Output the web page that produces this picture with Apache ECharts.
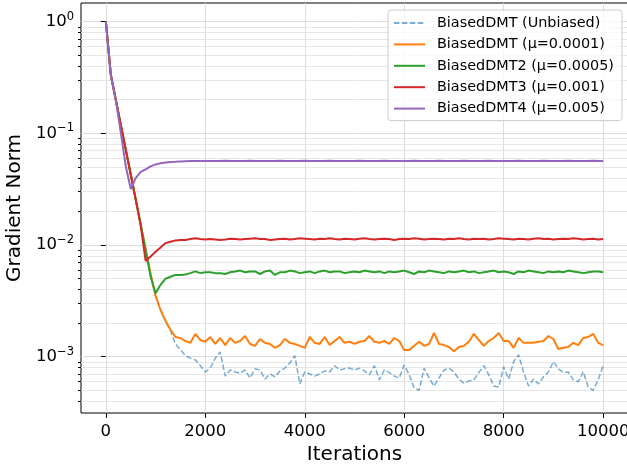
<!DOCTYPE html>
<html>
<head>
<meta charset="utf-8">
<script src="https://cdn.jsdelivr.net/npm/echarts@6/dist/echarts.min.js"></script>
<style>
  html, body { margin: 0; padding: 0; background: #fff; }
  #chart { width: 627px; height: 466px; }
</style>
</head>
<body>
<div id="chart"></div>
<script>
// iterations are logged every 100 steps, 0 .. 10000
var ITER_STEP = 100;
var iterations = [];
for (var i = 0; i <= 100; i++) iterations.push(i * ITER_STEP);

var seriesNames = ['BiasedDMT (Unbiased)', 'BiasedDMT (μ=0.0001)', 'BiasedDMT2 (μ=0.0005)', 'BiasedDMT3 (μ=0.001)', 'BiasedDMT4 (μ=0.005)'];
var seriesColors = ['#1f77b4', '#ff7f0e', '#2ca02c', '#d62728', '#9467bd'];

var unbiased = [
  1.0, 0.333, 0.200, 0.119, 0.0715, 0.0428, 0.0256, 0.0153, 0.0092, 0.0055, 0.0035, 0.00262, 0.00209, 0.00170,
  0.00130, 0.00115, 0.00102, 0.00097, 0.000935, 0.00083, 0.00073, 0.00079, 0.00097, 0.00110,
  0.00067, 0.00076, 0.00073, 0.00071, 0.00076, 0.000645, 0.00078, 0.00076, 0.00063, 0.00070,
  0.00066, 0.000745, 0.00079, 0.00088, 0.00102, 0.00057, 0.00073, 0.00070, 0.00067, 0.00070,
  0.000745, 0.00073, 0.00083, 0.00076, 0.00078, 0.00079, 0.00076, 0.00079, 0.000745, 0.00069,
  0.00083, 0.00062, 0.00076, 0.00072, 0.00067, 0.000645, 0.00084, 0.00069, 0.000525, 0.00050,
  0.00079, 0.000645, 0.000545, 0.000645, 0.00076, 0.00079, 0.00073, 0.00063, 0.00058, 0.000605,
  0.00062, 0.00072, 0.00083, 0.00069, 0.000545, 0.000535, 0.00081, 0.00063, 0.00090, 0.00104,
  0.00073, 0.000545, 0.00063, 0.00057, 0.00066, 0.00073, 0.00090, 0.00078, 0.00072, 0.00073,
  0.00062, 0.000595, 0.00073, 0.000535, 0.00050, 0.00062, 0.00083
];

var mu0001 = [
  1.0, 0.333, 0.200, 0.119, 0.0715, 0.0428, 0.0256, 0.0153, 0.0092, 0.0055, 0.0035, 0.00262, 0.00209, 0.00174,
  0.00150, 0.00147, 0.00138, 0.00133, 0.00160, 0.00141, 0.00136, 0.00150, 0.00130, 0.00147,
  0.00127, 0.00147, 0.00133, 0.00138, 0.00153, 0.00130, 0.00125, 0.00144, 0.00133, 0.00130,
  0.00120, 0.00127, 0.00144, 0.00133, 0.00130, 0.00125, 0.00120, 0.00150, 0.00133, 0.00130,
  0.00150, 0.00127, 0.00138, 0.00150, 0.00133, 0.00136, 0.00130, 0.00136, 0.00138, 0.00153,
  0.00136, 0.00133, 0.00138, 0.00130, 0.00147, 0.00138, 0.00115, 0.00115, 0.00125, 0.00136,
  0.00125, 0.00130, 0.00163, 0.00130, 0.00127, 0.00122, 0.00112, 0.00122, 0.00125, 0.00136,
  0.00160, 0.00141, 0.00125, 0.00138, 0.00147, 0.00163, 0.00138, 0.00138, 0.00120, 0.00147,
  0.00133, 0.00133, 0.00133, 0.00136, 0.00138, 0.00153, 0.00144, 0.00117, 0.00120, 0.00122,
  0.00133, 0.00127, 0.00147, 0.00150, 0.00160, 0.00133, 0.00127
];

var mu0005 = [
  1.0, 0.333, 0.200, 0.119, 0.0715, 0.0428, 0.0256, 0.0153, 0.0090, 0.0052, 0.0037,
  0.0044, 0.0050, 0.0052, 0.0054, 0.0054, 0.00545, 0.0056, 0.0058, 0.0056, 0.0057,
  0.0057, 0.0056, 0.0056, 0.0055, 0.0057, 0.0058, 0.0059, 0.0057, 0.0058, 0.0058,
  0.0055, 0.0058, 0.0059, 0.0054, 0.0057, 0.0057, 0.0059, 0.0058, 0.0056, 0.0057,
  0.0058, 0.0056, 0.0058, 0.0059, 0.0057, 0.0058, 0.0058, 0.0056, 0.0057, 0.0058,
  0.0057, 0.0059, 0.0058, 0.0057, 0.0058, 0.0056, 0.0058, 0.0057, 0.0058, 0.0059,
  0.0057, 0.0055, 0.0058, 0.0057, 0.0059, 0.0058, 0.0057, 0.0056, 0.0058, 0.0057,
  0.0058, 0.0059, 0.0057, 0.0058, 0.0056, 0.0057, 0.0058, 0.0059, 0.0057, 0.0058,
  0.0057, 0.0055, 0.0058, 0.0057, 0.0059, 0.0058, 0.0057, 0.0056, 0.0058, 0.0057,
  0.0058, 0.0057, 0.0059, 0.0058, 0.0057, 0.0056, 0.0057, 0.0058, 0.0058, 0.0057
];

var mu001 = [
  1.0, 0.333, 0.200, 0.119, 0.0715, 0.0428, 0.0256, 0.0150, 0.0072, 0.0079, 0.0087,
  0.0095, 0.0104, 0.0107, 0.0110, 0.0111, 0.0111, 0.0113, 0.0115, 0.0113, 0.0112,
  0.0113, 0.0112, 0.0111, 0.0112, 0.0114, 0.0113, 0.0112, 0.0113, 0.0114, 0.0115,
  0.0113, 0.0113, 0.0111, 0.0112, 0.0113, 0.0114, 0.0112, 0.0113, 0.0115, 0.0114,
  0.0113, 0.0112, 0.0114, 0.0113, 0.0115, 0.0113, 0.0112, 0.0114, 0.0113, 0.0112,
  0.0114, 0.0115, 0.0113, 0.0112, 0.0113, 0.0114, 0.0113, 0.0111, 0.0113, 0.0114,
  0.0113, 0.0115, 0.0114, 0.0112, 0.0113, 0.0114, 0.0113, 0.0112, 0.0114, 0.0113,
  0.0115, 0.0113, 0.0112, 0.0114, 0.0113, 0.0114, 0.0112, 0.0113, 0.0115, 0.0114,
  0.0113, 0.0112, 0.0114, 0.0113, 0.0112, 0.0114, 0.0115, 0.0113, 0.0114, 0.0112,
  0.0113, 0.0114, 0.0113, 0.0115, 0.0114, 0.0112, 0.0113, 0.0114, 0.0112, 0.0113
];

var mu005 = [
  1.0, 0.333, 0.197, 0.102, 0.051, 0.0317, 0.0398, 0.0451, 0.0475, 0.0506, 0.0527,
  0.0540, 0.0549, 0.0555, 0.0557, 0.0561, 0.0563, 0.0564, 0.0565, 0.0565, 0.0566,
  0.0566, 0.0565, 0.0566, 0.0567, 0.0566, 0.0566, 0.0565, 0.0566, 0.0567, 0.0566,
  0.0566, 0.0565, 0.0566, 0.0566, 0.0567, 0.0566, 0.0565, 0.0566, 0.0566, 0.0567,
  0.0566, 0.0566, 0.0565, 0.0566, 0.0567, 0.0566, 0.0566, 0.0565, 0.0566, 0.0566,
  0.0567, 0.0566, 0.0565, 0.0566, 0.0566, 0.0567, 0.0566, 0.0566, 0.0565, 0.0566,
  0.0566, 0.0567, 0.0566, 0.0565, 0.0566, 0.0566, 0.0567, 0.0566, 0.0566, 0.0565,
  0.0566, 0.0567, 0.0566, 0.0566, 0.0565, 0.0566, 0.0567, 0.0566, 0.0566, 0.0565,
  0.0566, 0.0566, 0.0567, 0.0566, 0.0565, 0.0566, 0.0566, 0.0567, 0.0566, 0.0566,
  0.0565, 0.0566, 0.0567, 0.0566, 0.0566, 0.0565, 0.0566, 0.0567, 0.0566, 0.0566
];

// axis ticks
var xTicks = [0, 2000, 4000, 6000, 8000, 10000];
var yMajorTicks = [0.001, 0.01, 0.1, 1];
var yMinorTicks = [
  0.0004, 0.0005, 0.0006, 0.0007, 0.0008, 0.0009,
  0.002, 0.003, 0.004, 0.005, 0.006, 0.007, 0.008, 0.009,
  0.02, 0.03, 0.04, 0.05, 0.06, 0.07, 0.08, 0.09,
  0.2, 0.3, 0.4, 0.5, 0.6, 0.7, 0.8, 0.9
];
var X_MIN = -500, X_MAX = 10500;
var Y_MIN = 3.13e-4, Y_MAX = 1.47;

var FONT = 'DejaVu Sans';
var allData = [unbiased, mu0001, mu0005, mu001, mu005];

function pairs(arr) {
  return iterations.map(function (it, i) { return [it, arr[i]]; });
}

var series = allData.map(function (arr, k) {
  var dashed = k === 0;
  return {
    name: seriesNames[k],
    type: 'line',
    data: pairs(arr),
    showSymbol: false,
    symbol: 'none',
    z: 2 + k,
    lineStyle: {
      color: seriesColors[k],
      width: dashed ? 1.5 : 2,
      type: dashed ? [5.5, 2.4] : 'solid',
      opacity: dashed ? 0.6 : 1
    },
    // no marker in the legend, only the line
    itemStyle: { color: seriesColors[k], opacity: 0 }
  };
});

var chart = echarts.init(document.getElementById('chart'));
chart.setOption({
  animation: false,
  textStyle: { fontFamily: FONT },
  grid: {
    left: 81, top: 3, right: -1, bottom: 53,
    outerBoundsMode: 'none',
    containLabel: false,
    show: true, borderColor: '#000', borderWidth: 1, backgroundColor: 'transparent'
  },
  legend: {
    orient: 'vertical',
    left: 388, top: 10,
    padding: [6, 8, 5, 5],
    itemWidth: 31, itemHeight: 14, itemGap: 7.4,
    backgroundColor: 'rgba(255,255,255,0.8)',
    borderColor: '#cccccc', borderWidth: 1, borderRadius: 3,
    itemStyle: { opacity: 0 },
    textStyle: { fontFamily: FONT, fontSize: 14.4, color: '#000', padding: [0, 0, 0, 7] },
    data: seriesNames
  },
  xAxis: {
    type: 'value', min: X_MIN, max: X_MAX,
    axisLine: { show: false },
    axisTick: { show: true, length: 5, lineStyle: { color: '#000' }, customValues: xTicks },
    axisLabel: {
      customValues: xTicks, margin: 10, color: '#000', fontSize: 16.5, fontFamily: FONT,
      formatter: function (v) { return String(v); }
    },
    splitLine: { show: true, lineStyle: { color: '#dcdcdc', width: 1 } },
    name: 'Iterations', nameLocation: 'middle', nameGap: 29,
    nameTextStyle: { fontSize: 20, fontFamily: FONT, color: '#000' }
  },
  yAxis: [{
    type: 'log', logBase: 10, min: Y_MIN, max: Y_MAX, position: 'left',
    axisLine: { show: false },
    axisTick: { show: true, length: 5, lineStyle: { color: '#000' }, customValues: yMajorTicks },
    axisLabel: {
      customValues: yMajorTicks, margin: 7, color: '#000',
      formatter: function (v) {
        var e = Math.round(Math.log(v) / Math.LN10);
        return '{b|10}{s|' + (e < 0 ? '\u2212' + (-e) : e) + '}';
      },
      rich: {
        b: { fontSize: 16.5, fontFamily: FONT, color: '#000', lineHeight: 22 },
        s: { fontSize: 11.5, fontFamily: FONT, color: '#000', lineHeight: 12, verticalAlign: 'top' }
      }
    },
    splitLine: { show: true, lineStyle: { color: '#dcdcdc', width: 1 } },
    name: 'Gradient Norm', nameLocation: 'middle', nameGap: 51,
    nameTextStyle: { fontSize: 20, fontFamily: FONT, color: '#000' }
  }, {
    // minor grid for the log scale
    type: 'log', logBase: 10, min: Y_MIN, max: Y_MAX, position: 'left', offset: 0,
    axisLine: { show: false },
    axisLabel: { show: false },
    axisTick: { show: true, length: 3, lineStyle: { color: '#000' }, customValues: yMinorTicks },
    splitLine: { show: true, lineStyle: { color: '#e6e6e6', width: 1 } }
  }],
  series: series
});
</script>
</body>
</html>
